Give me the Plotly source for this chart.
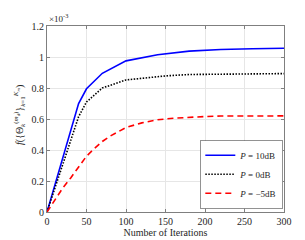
import plotly.graph_objects as go

# Data (values in units of 1e-3)
iters_blue = [0, 10, 20, 30, 40, 50, 70, 100, 140, 180, 220, 260, 300]
p10 = [0, 0.175, 0.35, 0.525, 0.70, 0.795, 0.895, 0.975, 1.015, 1.038, 1.048, 1.053, 1.056]

iters_black = [0, 10, 20, 30, 40, 50, 70, 100, 150, 180, 220, 260, 300]
p0 = [0, 0.155, 0.31, 0.465, 0.615, 0.71, 0.80, 0.852, 0.878, 0.887, 0.890, 0.892, 0.893]

iters_red = [0, 10, 20, 30, 40, 50, 60, 70, 80, 90, 100, 120, 140, 160, 180, 200, 220, 250, 300]
pm5 = [0, 0.08, 0.155, 0.22, 0.29, 0.36, 0.41, 0.455, 0.49, 0.52, 0.545, 0.575, 0.595,
       0.605, 0.612, 0.616, 0.619, 0.62, 0.62]

xticks = [0, 50, 100, 150, 200, 250, 300]
yticks = [0, 0.2, 0.4, 0.6, 0.8, 1.0, 1.2]
ytick_labels = ["0", "0.2", "0.4", "0.6", "0.8", "1", "1.2"]

font = "Liberation Serif, Times New Roman, serif"

fig = go.Figure()
fig.add_trace(go.Scatter(x=iters_blue, y=p10, mode="lines",
                         line=dict(color="#0000ff", width=1.6),
                         name="<i>P</i> = 10dB"))
fig.add_trace(go.Scatter(x=iters_black, y=p0, mode="lines",
                         line=dict(color="#000000", width=1.6, dash="1.5px,1.5px"),
                         name="<i>P</i> = 0dB"))
fig.add_trace(go.Scatter(x=iters_red, y=pm5, mode="lines",
                         line=dict(color="#ff0000", width=1.6, dash="6px,4px"),
                         name="<i>P</i> = −5dB"))

axis_common = dict(showgrid=True, gridcolor="#e6e6e6", gridwidth=1,
                   showline=True, linecolor="#7f7f7f", linewidth=1, mirror="ticks",
                   ticks="inside", ticklen=3, tickcolor="#7f7f7f",
                   zeroline=False, tickfont=dict(family=font, size=10, color="#262626"))

fig.update_layout(
    width=305, height=240,
    margin=dict(l=39, r=29, t=18, b=27),
    paper_bgcolor="white", plot_bgcolor="white",
    font=dict(family=font, size=10, color="#262626"),
    showlegend=True,
    legend=dict(x=0.995, y=0.02, xanchor="right", yanchor="bottom",
                bgcolor="white", bordercolor="#262626", borderwidth=0.5,
                font=dict(family=font, size=9, color="#262626"),
                tracegroupgap=0, itemwidth=30),
    xaxis=dict(range=[0, 300], tickvals=xticks,
               title=dict(text="Number of Iterations", standoff=2,
                          font=dict(family=font, size=10, color="#262626")),
               **axis_common),
    yaxis=dict(range=[0, 1.2], tickvals=yticks, ticktext=ytick_labels, **axis_common),
)

fig.add_annotation(xref="paper", yref="paper", x=0.0, y=1.0, xanchor="left", yanchor="bottom",
                   text="×10<sup>-3</sup>", showarrow=False,
                   font=dict(family=font, size=9, color="#262626"))
fig.add_annotation(xref="paper", yref="paper", x=-0.115, y=0.52, xanchor="center", yanchor="middle",
                   textangle=-90, showarrow=False,
                   text="<i>f</i>({Θ<sub><i>k</i></sub><sup>(<i>m<sub>d</sub></i>)</sup>}<sub><i>k</i>=1</sub><sup><i>K<sub>m</sub></i></sup>)",
                   font=dict(family=font, size=10, color="#262626"))

fig.write_html("out.html")
